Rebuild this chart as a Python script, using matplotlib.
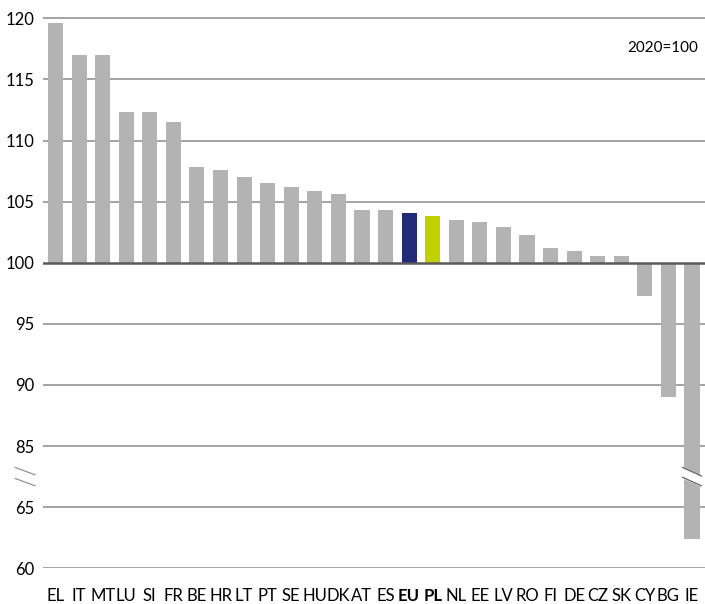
import matplotlib.pyplot as plt
from matplotlib import font_manager
import numpy as np

names = {f.name for f in font_manager.fontManager.ttflist}
narrow = "Liberation Sans Narrow" if "Liberation Sans Narrow" in names else "Lato"
plt.rcParams['font.family'] = ['Lato', 'DejaVu Sans']

countries = ["EL", "IT", "MT", "LU", "SI", "FR", "BE", "HR", "LT", "PT", "SE", "HU", "DK", "AT",
             "ES", "EU", "PL", "NL", "EE", "LV", "RO", "FI", "DE", "CZ", "SK", "CY", "BG", "IE"]
values = [119.6, 117.0, 117.0, 112.3, 112.3, 111.5, 107.8, 107.6, 107.0, 106.5, 106.2, 105.9, 105.6, 104.3,
          104.3, 104.1, 103.8, 103.5, 103.3, 102.9, 102.3, 101.2, 101.0, 100.55, 100.55, 97.3, 89.0, 62.4]
highlight = {"EU": "#1f2a78", "PL": "#c3d000"}
tick_values = [60, 65, 85, 90, 95, 100, 105, 110, 115, 120]

# broken axis: everything below 80 is moved up by 15 (so 65 sits where 80 would be)
SHIFT = 15
def to_axis(v):
    return v + SHIFT if v < 80 else v

fig = plt.figure(figsize=(7.05, 6.04), dpi=100)
ax = fig.add_axes([43 / 705, (604 - 568.3) / 604, 1 - 43 / 705, 568.3 / 604])

x = np.arange(len(countries))
colors = [highlight.get(c, "#b3b3b3") for c in countries]
heights = [to_axis(v) - 100 for v in values]
ax.bar(x, heights, bottom=100, width=0.64, color=colors, zorder=2)

ticks = [to_axis(t) for t in tick_values]
for t in ticks:
    if t == 100:
        ax.axhline(t, color="#5a5a5a", lw=1.8, zorder=3)
    else:
        ax.axhline(t, color="#8a8a8a", lw=1.1, zorder=1)

ax.set_xlim(-0.53, len(countries) - 0.45)
ax.set_ylim(75, 121.5)
ax.set_yticks(ticks)
ax.set_yticklabels([str(t) for t in tick_values], fontsize=12)
ax.set_xticks(x)
ax.set_xticklabels(countries, fontsize=12, family=[narrow, 'DejaVu Sans'])
for lab in ax.get_xticklabels():
    if lab.get_text() in highlight:
        lab.set_fontweight("bold")
ax.tick_params(axis="y", length=0, pad=6)
ax.tick_params(axis="x", length=0, pad=14)
for s in ax.spines.values():
    s.set_visible(False)

ax.text(0.99, 0.915, "2020=100", transform=ax.transAxes, ha="right", va="center", fontsize=11)

# break marks on the axis
br = 82.5
tr = ax.get_yaxis_transform()
for dy in (0.45, -0.45):
    ax.plot([-0.042, -0.012], [br + dy + 0.3, br + dy - 0.3], transform=tr,
            color="#888888", lw=0.8, clip_on=False)

# break marks on the IE bar
ie = len(countries) - 1
xs = [ie - 0.4, ie + 0.4]
ax.fill_between(xs, [br + 0.75, br + 0.05], [br - 0.05, br - 0.75], color="white", zorder=4)
ax.plot(xs, [br + 0.75, br + 0.05], color="#666666", lw=0.9, zorder=5)
ax.plot(xs, [br - 0.05, br - 0.75], color="#666666", lw=0.9, zorder=5)

fig.savefig("out.png", dpi=100)
